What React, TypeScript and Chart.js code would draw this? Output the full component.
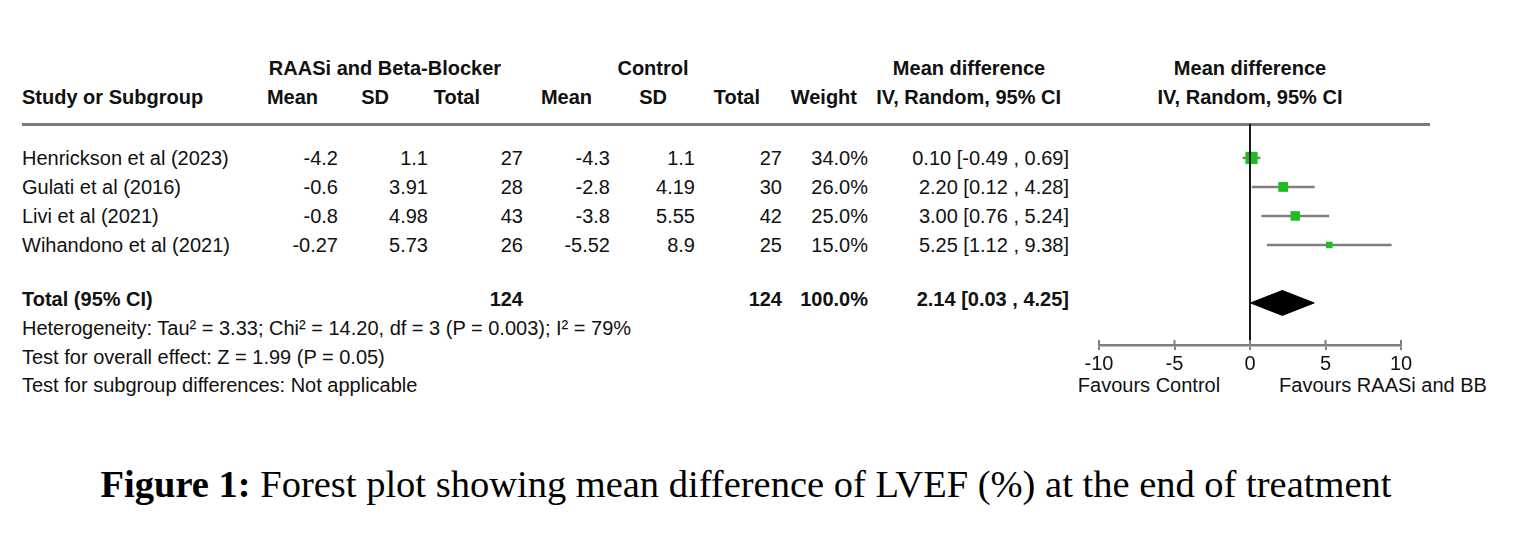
import React, { useEffect, useRef } from 'react';
import { Chart, registerables } from 'chart.js';

Chart.register(...registerables);

// ---------- data ----------
const studies = ['Henrickson et al (2023)', 'Gulati et al (2016)', 'Livi et al (2021)', 'Wihandono et al (2021)'];
const expMean = ['-4.2', '-0.6', '-0.8', '-0.27'];
const expSD = ['1.1', '3.91', '4.98', '5.73'];
const expTotal = [27, 28, 43, 26];
const ctlMean = ['-4.3', '-2.8', '-3.8', '-5.52'];
const ctlSD = ['1.1', '4.19', '5.55', '8.9'];
const ctlTotal = [27, 30, 42, 25];
const weights = [34.0, 26.0, 25.0, 15.0];
const meanDiff = [0.1, 2.2, 3.0, 5.25];
const ciLow = [-0.49, 0.12, 0.76, 1.12];
const ciHigh = [0.69, 4.28, 5.24, 9.38];
const totalN = [124, 124];
const totalWeight = [100.0];
const pooled = [2.14];
const pooledLow = [0.03];
const pooledHigh = [4.25];
const xTicks = [-10, -5, 0, 5, 10];
const footer = [
  'Heterogeneity: Tau\u00B2 = 3.33; Chi\u00B2 = 14.20, df = 3 (P = 0.003); I\u00B2 = 79%',
  'Test for overall effect: Z = 1.99 (P = 0.05)',
  'Test for subgroup differences: Not applicable',
];
const favours = ['Favours Control', 'Favours RAASi and BB'];

// ---------- layout ----------
const W = 1528;
const H = 543;
const FONT = "'Liberation Sans', Arial, Helvetica, sans-serif";
const TEXT = '#111';
const Y_MIN = -0.17;
const Y_MAX = 7.45;
const ROW_Y = [158, 187, 216, 245];
const TOTAL_ROW_Y = 299;
const COL = { mean: 338, sd: 428, total: 523, cmean: 610, csd: 695, ctotal: 782, weight: 868, ci: 1069 };

const fmtCI = (m: number, lo: number, hi: number) => `${m.toFixed(2)} [${lo.toFixed(2)} , ${hi.toFixed(2)}]`;
const squareRadius = (w: number) => (0.3 * w + 2) / Math.SQRT2;

type TProps = { x: number; y: number; text: string | number; align?: 'left' | 'right' | 'center'; bold?: boolean };
const T = ({ x, y, text, align = 'left', bold = false }: TProps) => {
  const base: React.CSSProperties = {
    position: 'absolute',
    top: y - 12,
    fontFamily: FONT,
    fontSize: 20,
    lineHeight: '24px',
    fontWeight: bold ? 'bold' : 'normal',
    color: TEXT,
    whiteSpace: 'nowrap',
  };
  if (align === 'left') return <div style={{ ...base, left: x }}>{text}</div>;
  if (align === 'right') return <div style={{ ...base, right: W - x, textAlign: 'right' }}>{text}</div>;
  return <div style={{ ...base, left: x - 400, width: 800, textAlign: 'center' }}>{text}</div>;
};

const upperTicks = {
  id: 'upperTicks',
  afterDraw(chart: any) {
    const sx = chart.scales.x;
    const ctx = chart.ctx;
    ctx.save();
    ctx.strokeStyle = '#7f7f7f';
    ctx.lineWidth = 2;
    sx.ticks.forEach((_t: any, i: number) => {
      const px = sx.getPixelForTick(i);
      ctx.beginPath();
      ctx.moveTo(px, sx.top - 5);
      ctx.lineTo(px, sx.top);
      ctx.stroke();
    });
    ctx.restore();
  },
};

const ForestChart = () => {
  const ref = useRef<HTMLCanvasElement | null>(null);
  useEffect(() => {
    if (!ref.current) return;
    const totalRow = 6;
    const dh = 0.43;
    const datasets: any[] = [
      {
        data: [{ x: 0, y: Y_MIN }, { x: 0, y: Y_MAX }],
        showLine: true,
        borderColor: '#000',
        borderWidth: 1.8,
        pointRadius: 0,
      },
      {
        data: meanDiff.map((m, i) => ({ x: m, y: i + 1 })),
        showLine: false,
        pointStyle: 'rect',
        pointRadius: weights.map(squareRadius),
        backgroundColor: '#1fbd1f',
        borderColor: '#1fbd1f',
        borderWidth: 0,
      },
      {
        data: [
          { x: pooledLow[0], y: totalRow },
          { x: pooled[0], y: totalRow - dh },
          { x: pooledHigh[0], y: totalRow },
          { x: pooled[0], y: totalRow + dh },
          { x: pooledLow[0], y: totalRow },
        ],
        showLine: true,
        fill: 'shape',
        backgroundColor: '#000',
        borderColor: '#000',
        borderWidth: 1,
        pointRadius: 0,
      },
      ...ciLow.map((lo, i) => ({
        data: [{ x: lo, y: i + 1 }, { x: ciHigh[i], y: i + 1 }],
        showLine: true,
        borderColor: '#7f7f7f',
        borderWidth: 2.5,
        pointRadius: 0,
      })),
    ];
    const chart = new Chart(ref.current, {
      type: 'scatter',
      data: { datasets },
      plugins: [upperTicks],
      options: {
        animation: false,
        responsive: true,
        maintainAspectRatio: false,
        events: [],
        layout: { padding: { left: 29, right: 89, top: 10, bottom: 0 } },
        plugins: { legend: { display: false }, tooltip: { enabled: false } },
        scales: {
          x: {
            type: 'linear',
            min: xTicks[0],
            max: xTicks[xTicks.length - 1],
            afterBuildTicks: (s: any) => {
              s.ticks = xTicks.map((v) => ({ value: v }));
            },
            afterFit: (s: any) => {
              s.height = 40;
            },
            grid: { display: true, drawOnChartArea: false, drawTicks: true, tickLength: 5, color: '#7f7f7f', lineWidth: 2 },
            border: { display: true, color: '#7f7f7f', width: 2.5 },
            ticks: {
              color: TEXT,
              font: { family: FONT, size: 20 },
              padding: 2,
              maxRotation: 0,
              autoSkip: false,
              callback: (v: any) => String(v),
            },
          },
          y: { type: 'linear', display: false, min: Y_MIN, max: Y_MAX, reverse: true },
        },
      } as any,
    });
    return () => chart.destroy();
  }, []);
  return (
    <div style={{ position: 'absolute', left: 1070, top: 114, width: 420, height: 271 }}>
      <canvas ref={ref} />
    </div>
  );
};

export default function App() {
  return (
    <div style={{ position: 'fixed', left: 0, top: 0, width: W, height: H, background: '#fff', overflow: 'hidden' }}>
      {/* header row 1 */}
      <T x={385} y={68} text="RAASi and Beta-Blocker" align="center" bold />
      <T x={653} y={68} text="Control" align="center" bold />
      <T x={969} y={68} text="Mean difference" align="center" bold />
      <T x={1250} y={68} text="Mean difference" align="center" bold />
      {/* header row 2 */}
      <T x={22} y={97} text="Study or Subgroup" bold />
      <T x={318} y={97} text="Mean" align="right" bold />
      <T x={389} y={97} text="SD" align="right" bold />
      <T x={480} y={97} text="Total" align="right" bold />
      <T x={592} y={97} text="Mean" align="right" bold />
      <T x={667} y={97} text="SD" align="right" bold />
      <T x={760} y={97} text="Total" align="right" bold />
      <T x={857} y={97} text="Weight" align="right" bold />
      <T x={1061} y={97} text="IV, Random, 95% CI" align="right" bold />
      <T x={1250} y={97} text="IV, Random, 95% CI" align="center" bold />
      {/* rule */}
      <div style={{ position: 'absolute', left: 22, top: 122.5, width: 1408, height: 3, background: '#7a7a7a' }} />
      {/* study rows */}
      {studies.map((s, i) => (
        <React.Fragment key={s}>
          <T x={22} y={ROW_Y[i]} text={s} />
          <T x={COL.mean} y={ROW_Y[i]} text={expMean[i]} align="right" />
          <T x={COL.sd} y={ROW_Y[i]} text={expSD[i]} align="right" />
          <T x={COL.total} y={ROW_Y[i]} text={expTotal[i]} align="right" />
          <T x={COL.cmean} y={ROW_Y[i]} text={ctlMean[i]} align="right" />
          <T x={COL.csd} y={ROW_Y[i]} text={ctlSD[i]} align="right" />
          <T x={COL.ctotal} y={ROW_Y[i]} text={ctlTotal[i]} align="right" />
          <T x={COL.weight} y={ROW_Y[i]} text={`${weights[i].toFixed(1)}%`} align="right" />
          <T x={COL.ci} y={ROW_Y[i]} text={fmtCI(meanDiff[i], ciLow[i], ciHigh[i])} align="right" />
        </React.Fragment>
      ))}
      {/* total row */}
      <T x={22} y={TOTAL_ROW_Y} text="Total (95% CI)" bold />
      <T x={COL.total} y={TOTAL_ROW_Y} text={totalN[0]} align="right" bold />
      <T x={COL.ctotal} y={TOTAL_ROW_Y} text={totalN[1]} align="right" bold />
      <T x={COL.weight} y={TOTAL_ROW_Y} text={`${totalWeight[0].toFixed(1)}%`} align="right" bold />
      <T x={COL.ci} y={TOTAL_ROW_Y} text={fmtCI(pooled[0], pooledLow[0], pooledHigh[0])} align="right" bold />
      {/* footer */}
      {footer.map((f, i) => (
        <T key={f} x={22} y={328 + i * 28.5} text={f} />
      ))}
      {/* favours */}
      <T x={1149} y={385} text={favours[0]} align="center" />
      <T x={1383} y={385} text={favours[1]} align="center" />
      {/* chart */}
      <ForestChart />
      {/* caption */}
      <div
        style={{
          position: 'absolute',
          left: 0,
          width: 1492,
          top: 461,
          textAlign: 'center',
          fontFamily: "'Liberation Serif', 'Times New Roman', serif",
          fontSize: 38.5,
          lineHeight: '46px',
          color: '#000',
          whiteSpace: 'nowrap',
        }}
      >
        <b>Figure 1:</b> Forest plot showing mean difference of LVEF (%) at the end of treatment
      </div>
    </div>
  );
}
